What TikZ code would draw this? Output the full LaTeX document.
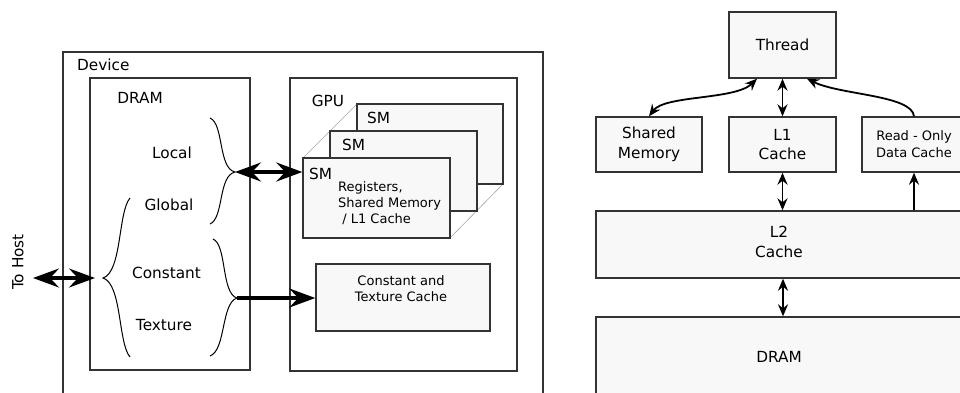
\documentclass[tikz,border=0pt]{standalone}
\usepackage{fontspec}
\setmainfont{DejaVu Sans}
\usetikzlibrary{arrows.meta,calc}
\definecolor{boxgray}{HTML}{F8F8F8}
\definecolor{edge}{HTML}{333333}
\begin{document}
\begin{tikzpicture}[x=1pt,y=-1pt,
  box/.style={draw=edge,line width=1.4pt,fill=white,inner sep=0pt},
  gbox/.style={box,fill=boxgray},
  lbl/.style={inner sep=0pt,font=\fontsize{15.3}{19.5}\selectfont,align=center},
  slbl/.style={inner sep=0pt,font=\fontsize{13}{16}\selectfont},
  bigtip/.tip={Stealth[length=26pt,width=19pt,inset=9pt]},
  smalltip/.tip={Stealth[length=12pt,width=10pt,inset=4pt]},
  bigline/.style={line width=3.5pt,black},
  smallline/.style={line width=1.8pt,black},
  bracel/.style={draw=black,line width=1pt},
  depth/.style={draw=black!35,line width=0.6pt}
]
\useasboundingbox (0,0) rectangle (960,392);
\clip (0,0) rectangle (960,392);

% ---------- left: device ----------
\node[box,minimum width=480pt,minimum height=348pt] (device) at (303,226) {};
\node[lbl,anchor=west] (devlbl) at (77,65) {Device};
\node[box,minimum width=160pt,minimum height=292pt] (dram) at (170,224) {};
\node[lbl] (dramlbl) at (140,98) {DRAM};
\node[box,minimum width=227pt,minimum height=293pt] (gpu) at (403.5,224.5) {};
\node[lbl] (gpulbl) at (328,101) {GPU};

% SM stack
\draw[depth] (303,158) -- (357,104);
\draw[depth] (450,158) -- (503,104);
\draw[depth] (450,238) -- (503,184);
\node[gbox,minimum width=146pt,minimum height=80pt] (smb) at (430,144) {};
\node[gbox,minimum width=147pt,minimum height=80pt] (smm) at (403.5,171) {};
\node[gbox,minimum width=147pt,minimum height=80pt] (smf) at (376.5,198) {};
\node[lbl,anchor=west] (smblbl) at (367,118) {SM};
\node[lbl,anchor=west] (smmlbl) at (342,145) {SM};
\node[lbl,anchor=west] (smflbl) at (309,174) {SM};
\node[slbl,anchor=west,align=left] (smtext) at (338,203) {Registers,\\Shared Memory\\\ / L1 Cache};

\node[gbox,minimum width=174pt,minimum height=67pt] (cache) at (403,297.5) {};
\node[slbl,align=center] (cachelbl) at (401,289) {Constant and\\Texture Cache};

% memory spaces
\node[lbl] (local) at (172,153) {Local};
\node[lbl] (global) at (169,205) {Global};
\node[lbl] (constant) at (166.5,273) {Constant};
\node[lbl] (texture) at (164,325) {Texture};

% braces
\coordinate (b1) at (235,172);
\coordinate (b2) at (237,298);
\coordinate (b3) at (103,278);
\draw[bracel] (210,118) .. controls (224,124) and (218,168) .. (b1)
  .. controls (218,176) and (224,218) .. (210,224);
\draw[bracel] (213,239) .. controls (227,245) and (221,293) .. (b2)
  .. controls (221,303) and (226,350) .. (210,356);
\draw[bracel] (130,198) .. controls (118,212) and (122,272) .. (b3)
  .. controls (122,284) and (118,343) .. (130,357);

% arrows
\draw[bigline,bigtip-bigtip] (b1) -- (b1 -| smf.west);
\draw[bigline,-bigtip] (b2) -- (b2 -| cache.west);
\coordinate (hostl) at (33,278);
\coordinate (hostr) at (95,278);
\draw[bigline,bigtip-bigtip] (hostl) -- (hostr);
\node[lbl,rotate=90] (tohost) at (18,262) {To Host};

% ---------- right: hierarchy ----------
\node[gbox,minimum width=107pt,minimum height=66pt] (thread) at (782.5,45) {};
\node[lbl] (threadlbl) at (thread.center) {Thread};
\node[gbox,minimum width=106pt,minimum height=55pt] (shm) at (649,144.5) {};
\node[lbl] (shmlbl) at (shm.center) {Shared\\Memory};
\node[gbox,minimum width=107pt,minimum height=55pt] (l1) at (782.5,144.5) {};
\node[lbl] (l1lbl) at (l1.center) {L1\\Cache};
\node[gbox,minimum width=104pt,minimum height=55pt] (ro) at (914,144.5) {};
\node[slbl,align=center,font=\fontsize{13}{17}\selectfont] (rolbl) at (ro.center) {Read - Only\\Data Cache};
\node[gbox,minimum width=374pt,minimum height=67pt] (l2) at (783,244.5) {};
\node[lbl] (l2lbl) at (779,242) {L2\\Cache};
\node[gbox,minimum width=374pt,minimum height=80pt] (rdram) at (783,357) {};
\node[lbl] (rdramlbl) at (779,357) {DRAM};

\draw[smallline,smalltip-smalltip] (shm.north) .. controls (665,95) and (735,100) .. ($(thread.south)+(-25.5,0)$);
\draw[smallline,smalltip-smalltip] (thread.south) -- (l1.north);
\draw[smallline,-smalltip] (ro.north) .. controls (912,95) and (840,95) .. ($(thread.south)+(24.5,0)$);
\draw[smallline,smalltip-smalltip] (l1.south) -- (l1.south |- l2.north);
\draw[smallline,-smalltip] (ro.south |- l2.north) -- (ro.south);
\draw[smallline,smalltip-smalltip] (l2.north |- l2.south) -- (l2.south |- rdram.north);
\end{tikzpicture}
\end{document}
